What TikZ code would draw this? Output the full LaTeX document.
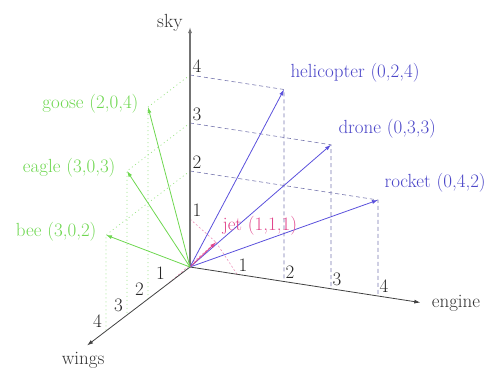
\documentclass[tikz,border=0pt]{standalone}
\usepackage{fontspec}
\usetikzlibrary{arrows.meta}
\definecolor{vblue}{RGB}{90,80,220}
\definecolor{lblue}{RGB}{75,70,200}
\definecolor{vgreen}{RGB}{110,215,80}
\definecolor{vpink}{RGB}{225,70,140}
\definecolor{dblue}{RGB}{120,120,175}
\begin{document}
\begin{tikzpicture}[
  font=\fontsize{19}{22}\selectfont,
  axisline/.style={draw=black!75, line width=0.8pt, -{Latex[length=6pt,width=4pt]}},
  vec/.style={line width=0.8pt, -{Latex[length=6pt,width=4pt]}},
  bluedash/.style={draw=dblue, line width=0.6pt, dash pattern=on 4pt off 3pt},
  greendot/.style={draw=vgreen!70, line width=0.7pt, dash pattern=on 1pt off 3pt},
  pinkdash/.style={draw=vpink!60, line width=0.6pt, dash pattern=on 2pt off 2pt},
  ticklbl/.style={inner sep=0pt, text=black!85},
  bluelbl/.style={anchor=west, text=lblue, xshift=3pt, yshift=17pt},
  greenlbl/.style={anchor=east, text=vgreen, xshift=-6pt, yshift=3pt},
]
\useasboundingbox (0,0) rectangle (489pt,368pt);
\begin{scope}[shift={(190pt,101pt)}, x={(-21pt,-16pt)}, y={(47pt,-7.25pt)}, z={(0pt,48pt)}]
  \coordinate (O) at (0,0,0);
  \coordinate (W) at (4.9,0,0);
  \coordinate (E) at (0,4.9,0);
  \coordinate (S) at (0,0,5);
  \foreach \k in {1,2,3,4} {
    \coordinate (w\k) at (\k,0,0);
    \coordinate (e\k) at (0,\k,0);
    \coordinate (s\k) at (0,0,\k);
  }
  % tips
  \coordinate (heli) at (0,2,4);
  \coordinate (drone) at (0,3,3);
  \coordinate (rocket) at (0,4,2);
  \coordinate (jet) at (1,1,1);
  \coordinate (goose) at (2,0,4);
  \coordinate (eagle) at (3,0,3);
  \coordinate (bee) at (4,0,2);

  % projection lines
  \draw[bluedash] (s4) -- (heli) -- (e2);
  \draw[bluedash] (s3) -- (drone) -- (e3);
  \draw[bluedash] (s2) -- (rocket) -- (e4);
  \draw[greendot] (s4) -- (goose) -- (w2);
  \draw[greendot] (s3) -- (eagle) -- (w3);
  \draw[greendot] (s2) -- (bee) -- (w4);
  \draw[pinkdash] (s1) -- (jet);
  \draw[pinkdash] (e1) -- (jet);
  \draw[pinkdash] (w1) -- (jet);

  % axes
  \draw[axisline, line width=1.1pt, draw=black!55] (O) -- (S);
  \draw[axisline] (O) -- (E);
  \draw[axisline] (O) -- (W);

  % vectors
  \draw[vec, vblue] (O) -- (heli);
  \draw[vec, vblue] (O) -- (drone);
  \draw[vec, vblue] (O) -- (rocket);
  \draw[vec, vpink] (O) -- (jet);
  \draw[vec, vgreen] (O) -- (goose);
  \draw[vec, vgreen] (O) -- (eagle);
  \draw[vec, vgreen] (O) -- (bee);

  % axis labels
  \node[anchor=east, xshift=-4pt, yshift=4pt, text=black!80] (lsky) at (S) {sky};
  \node[anchor=west, xshift=8pt, yshift=-1pt, text=black!80] (leng) at (E) {engine};
  \node[anchor=north, inner sep=0.5pt, xshift=-4pt, yshift=-6.5pt, text=black!80] (lwing) at (W) {wings};

  % tick labels
  \foreach \k in {1,2,3,4} {
    \node[ticklbl, xshift=7pt, yshift=9pt] (ts\k) at (s\k) {\k};
    \node[ticklbl, xshift=6pt, yshift=9.5pt] (te\k) at (e\k) {\k};
    \node[ticklbl, xshift=-8.5pt, yshift=9.5pt] (tw\k) at (w\k) {\k};
  }

  % vector labels
  \node[bluelbl] (lheli) at (heli) {helicopter (0,2,4)};
  \node[bluelbl, xshift=1pt, yshift=-1pt] (ldrone) at (drone) {drone (0,3,3)};
  \node[bluelbl] (lrocket) at (rocket) {rocket (0,4,2)};
  \node[anchor=west, text=vpink, xshift=3pt, yshift=16pt] (ljet) at (jet) {jet (1,1,1)};
  \node[greenlbl] (lgoose) at (goose) {goose (2,0,4)};
  \node[greenlbl, xshift=-2pt] (leagle) at (eagle) {eagle (3,0,3)};
  \node[greenlbl] (lbee) at (bee) {bee (3,0,2)};
\end{scope}
\end{tikzpicture}
\end{document}
